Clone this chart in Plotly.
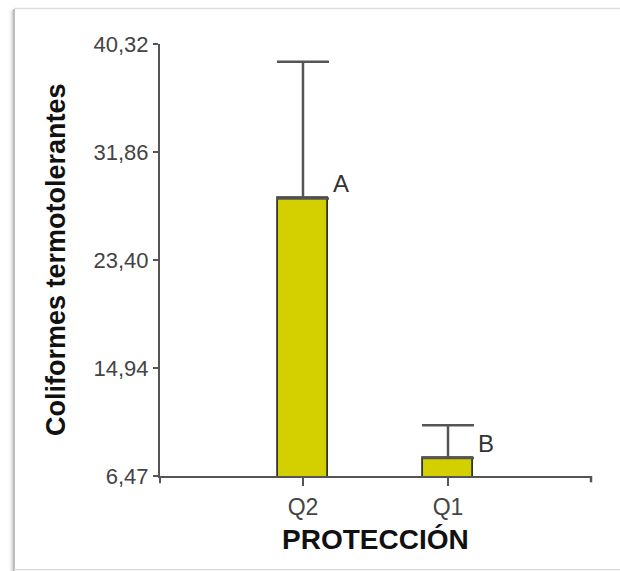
import plotly.graph_objects as go

# Group means and upper error (standard error) per protection level
categories = ["Q2", "Q1"]
means = [28.22, 7.88]
errors = [10.71, 2.57]
group_letters = ["A", "B"]

# Y axis ticks (comma decimal separator)
y_ticks = [6.47, 14.94, 23.40, 31.86, 40.32]
y_tick_labels = ["6,47", "14,94", "23,40", "31,86", "40,32"]

W, H = 620, 571
L, R, T, B = 160, 29, 44, 95.3
PW, PH = W - L - R, H - T - B


def px_x(px):
    return (px - L) / PW


def px_y(py):
    return (H - B - py) / PH


FONT = "Liberation Sans, Arial, sans-serif"
AXIS_COLOR = "#555555"

fig = go.Figure()
fig.add_trace(go.Bar(
    x=categories,
    y=means,
    width=0.35,
    marker=dict(color="#d4d000", line=dict(color="#333333", width=1.8)),
    error_y=dict(type="data", array=errors, arrayminus=[0] * len(errors),
                 color=AXIS_COLOR, thickness=2.5, width=26),
    showlegend=False,
    cliponaxis=True,
))

for cat, m, letter in zip(categories, means, group_letters):
    fig.add_annotation(x=cat, y=m, text=letter, showarrow=False,
                       xanchor="left", yanchor="middle", xshift=28, yshift=15,
                       font=dict(family=FONT, size=24, color="#333333"))

# Axis titles
fig.add_annotation(xref="paper", yref="paper", x=px_x(56), y=0.5,
                   text="<b>Coliformes termotolerantes</b>", textangle=-90,
                   showarrow=False, xanchor="center", yanchor="middle",
                   font=dict(family=FONT, size=27, color="#111111"))
fig.add_annotation(xref="paper", yref="paper", x=0.501, y=px_y(539),
                   text="<b>PROTECCIÓN</b>", showarrow=False,
                   xanchor="center", yanchor="middle",
                   font=dict(family=FONT, size=28, color="#111111"))

shapes = []
# y axis runs a little below the x axis; x axis ends with a short drop
shapes.append(dict(type="line", xref="paper", yref="paper", x0=0, x1=0,
                   y0=0, y1=px_y(483), line=dict(color=AXIS_COLOR, width=2)))
shapes.append(dict(type="line", xref="paper", yref="paper", x0=px_x(591), x1=px_x(591),
                   y0=0, y1=px_y(482), line=dict(color=AXIS_COLOR, width=2.5)))
# Light frame with a soft shadow on the left edge
for off, op in [(-4, 0.08), (-3, 0.15), (-2, 0.25), (-1, 0.4)]:
    shapes.append(dict(type="line", xref="paper", yref="paper",
                       x0=px_x(14 + off), x1=px_x(14 + off), y0=px_y(10), y1=px_y(571),
                       line=dict(color="#888888", width=1), opacity=op))
shapes.append(dict(type="line", xref="paper", yref="paper", x0=px_x(14), x1=px_x(14),
                   y0=px_y(9), y1=px_y(571), line=dict(color="#aaaaaa", width=1.5)))
shapes.append(dict(type="line", xref="paper", yref="paper", x0=px_x(14), x1=px_x(620),
                   y0=px_y(8.5), y1=px_y(8.5), line=dict(color="#dddddd", width=1.5)))
shapes.append(dict(type="line", xref="paper", yref="paper", x0=px_x(14), x1=px_x(620),
                   y0=px_y(569.5), y1=px_y(569.5), line=dict(color="#dddddd", width=1.5)))

fig.update_layout(
    width=W, height=H,
    margin=dict(l=L, r=R, t=T, b=B),
    paper_bgcolor="white", plot_bgcolor="white",
    font=dict(family=FONT, color="#444444"),
    shapes=shapes,
    bargap=0,
)
fig.update_xaxes(
    range=[-0.986, 1.986], showgrid=False, zeroline=False,
    showline=True, linecolor=AXIS_COLOR, linewidth=2,
    ticks="outside", ticklen=8, tickwidth=2, tickcolor=AXIS_COLOR,
    ticklabelstandoff=1,
    tickfont=dict(family=FONT, size=23, color="#444444"),
)
fig.update_yaxes(
    range=[y_ticks[0], y_ticks[-1]], showgrid=False, zeroline=False,
    showline=True, linecolor=AXIS_COLOR, linewidth=2,
    tickmode="array", tickvals=y_ticks, ticktext=y_tick_labels,
    ticks="outside", ticklen=5, tickwidth=2, tickcolor=AXIS_COLOR,
    tickfont=dict(family=FONT, size=22, color="#444444"),
)

fig.write_html("out.html")
